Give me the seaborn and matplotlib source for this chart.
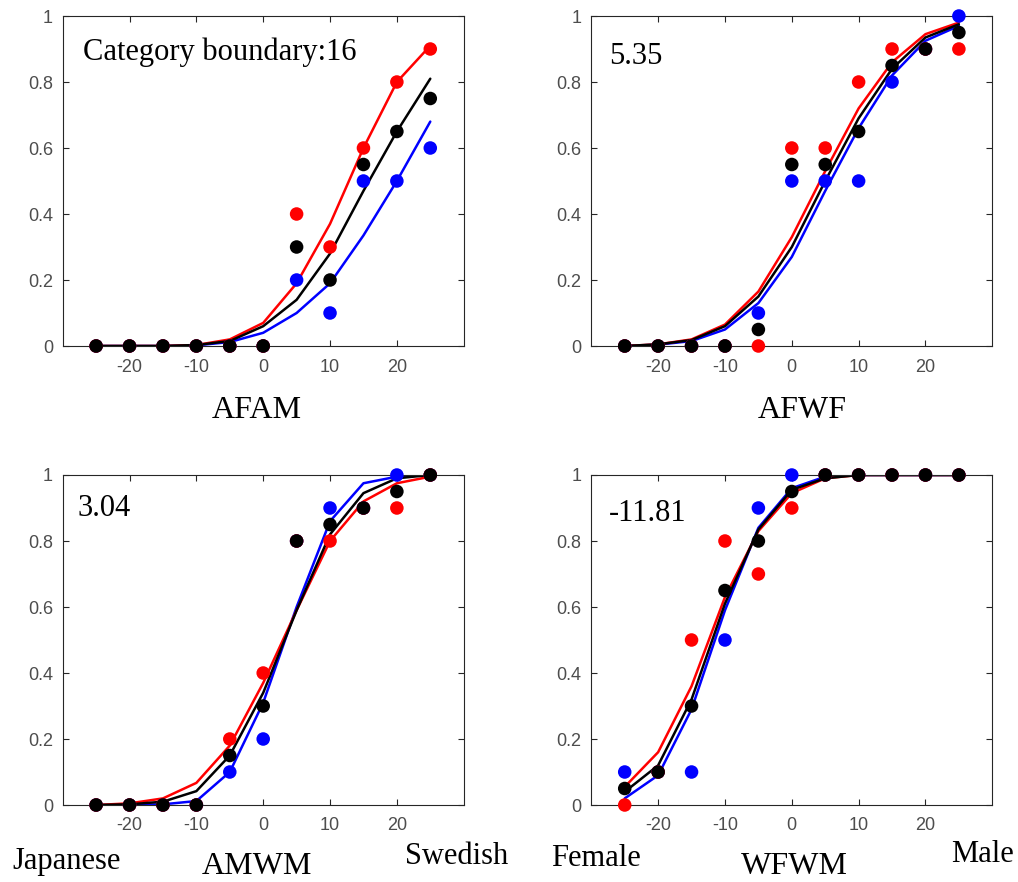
import numpy as np
import pandas as pd
import matplotlib
matplotlib.use("Agg")
import matplotlib.pyplot as plt
import seaborn as sns

# stimulus levels (morph steps)
levels = [-25, -20, -15, -10, -5, 0, 5, 10, 15, 20, 25]
groups = ["blue", "red", "black"]
panel_names = ["AFAM", "AFWF", "AMWM", "WFWM"]
boundaries = ["Category boundary:16", "5.35", "3.04", "-11.81"]

# observed proportions
afam_pts = {
    "blue":  [0, 0, 0, 0, 0, 0, 0.2, 0.1, 0.5, 0.5, 0.6],
    "red":   [0, 0, 0, 0, 0, 0, 0.4, 0.3, 0.6, 0.8, 0.9],
    "black": [0, 0, 0, 0, 0, 0, 0.3, 0.2, 0.55, 0.65, 0.75],
}
afwf_pts = {
    "blue":  [0, 0, 0, 0, 0.1, 0.5, 0.5, 0.5, 0.8, 0.9, 1.0],
    "red":   [0, 0, 0, 0, 0, 0.6, 0.6, 0.8, 0.9, 0.9, 0.9],
    "black": [0, 0, 0, 0, 0.05, 0.55, 0.55, 0.65, 0.85, 0.9, 0.95],
}
amwm_pts = {
    "blue":  [0, 0, 0, 0, 0.1, 0.2, 0.8, 0.9, 0.9, 1.0, 1.0],
    "red":   [0, 0, 0, 0, 0.2, 0.4, 0.8, 0.8, 0.9, 0.9, 1.0],
    "black": [0, 0, 0, 0, 0.15, 0.3, 0.8, 0.85, 0.9, 0.95, 1.0],
}
wfwm_pts = {
    "blue":  [0.1, 0.1, 0.1, 0.5, 0.9, 1.0, 1, 1, 1, 1, 1],
    "red":   [0, 0.1, 0.5, 0.8, 0.7, 0.9, 1, 1, 1, 1, 1],
    "black": [0.05, 0.1, 0.3, 0.65, 0.8, 0.95, 1, 1, 1, 1, 1],
}

# fitted psychometric curves
afam_fit = {
    "blue":  [0, 0, 0, 0.002, 0.012, 0.04, 0.10, 0.19, 0.335, 0.50, 0.68],
    "red":   [0, 0, 0, 0.003, 0.02, 0.07, 0.19, 0.37, 0.60, 0.80, 0.91],
    "black": [0, 0, 0, 0.003, 0.015, 0.06, 0.14, 0.28, 0.47, 0.65, 0.81],
}
afwf_fit = {
    "blue":  [0, 0.004, 0.015, 0.05, 0.13, 0.27, 0.47, 0.66, 0.82, 0.925, 0.97],
    "red":   [0, 0.005, 0.02, 0.065, 0.165, 0.33, 0.53, 0.72, 0.86, 0.945, 0.98],
    "black": [0, 0.005, 0.018, 0.06, 0.15, 0.30, 0.50, 0.69, 0.84, 0.935, 0.975],
}
amwm_fit = {
    "blue":  [0, 0, 0.002, 0.012, 0.10, 0.31, 0.60, 0.86, 0.975, 0.995, 1.0],
    "red":   [0, 0.005, 0.02, 0.067, 0.18, 0.37, 0.59, 0.80, 0.92, 0.975, 0.995],
    "black": [0, 0.002, 0.01, 0.042, 0.15, 0.34, 0.59, 0.82, 0.945, 0.99, 1.0],
}
wfwm_fit = {
    "blue":  [0.02, 0.09, 0.29, 0.59, 0.84, 0.96, 0.995, 1, 1, 1, 1],
    "red":   [0.055, 0.16, 0.36, 0.63, 0.83, 0.945, 0.99, 1, 1, 1, 1],
    "black": [0.04, 0.12, 0.32, 0.61, 0.835, 0.955, 0.99, 1, 1, 1, 1],
}

all_pts = [afam_pts, afwf_pts, amwm_pts, wfwm_pts]
all_fit = [afam_fit, afwf_fit, amwm_fit, wfwm_fit]
palette = {"blue": "#0000ff", "red": "#ff0000", "black": "#000000"}


def to_long(d):
    rows = []
    for g in groups:
        for x, y in zip(levels, d[g]):
            rows.append({"level": x, "p": y, "group": g})
    return pd.DataFrame(rows)


sns.set_style("ticks", {"xtick.direction": "in", "ytick.direction": "in"})
plt.rcParams["font.family"] = ["Liberation Sans", "DejaVu Sans"]
plt.rcParams["axes.unicode_minus"] = False

fig = plt.figure(figsize=(10.18, 8.82), dpi=100)
W, H = 1018, 882
boxes = [(62.7, 346), (591.3, 346), (62.7, 805), (591.3, 805)]
aw, ah = 401, 330

serif = ["Liberation Serif", "DejaVu Serif"]
ann_pos = [(0.05, 0.89), (0.044, 0.876), (0.038, 0.897), (0.044, 0.882)]

for i in range(4):
    left, bottom = boxes[i]
    ax = fig.add_axes([left / W, 1 - bottom / H, aw / W, ah / H])
    fit_df = to_long(all_fit[i])
    pts_df = to_long(all_pts[i])
    sns.lineplot(data=fit_df, x="level", y="p", hue="group", palette=palette,
                 hue_order=groups, linewidth=1.8, legend=False, ax=ax,
                 estimator=None, sort=True)
    sns.scatterplot(data=pts_df, x="level", y="p", hue="group", palette=palette,
                    hue_order=groups, s=95, linewidth=0, legend=False, ax=ax,
                    zorder=3, clip_on=False)
    ax.set_xlim(-30, 30)
    ax.set_ylim(0, 1)
    ax.set_xticks([-20, -10, 0, 10, 20])
    ax.set_yticks([0, 0.2, 0.4, 0.6, 0.8, 1.0])
    ax.set_yticklabels(["0", "0.2", "0.4", "0.6", "0.8", "1"])
    ax.tick_params(axis="both", which="both", top=True, right=True,
                   length=4, width=0.8, color="#262626",
                   labelsize=13, labelcolor="#4d4d4d")
    ax.tick_params(axis="x", pad=9)
    ax.tick_params(axis="y", pad=7)
    for sp in ax.spines.values():
        sp.set_visible(True)
        sp.set_color("#262626")
        sp.set_linewidth(0.8)
    ax.set_xlabel("")
    ax.set_ylabel("")
    ax.text(ann_pos[i][0], ann_pos[i][1], boundaries[i], transform=ax.transAxes,
            ha="left", va="center", fontsize=22, family=serif, color="black")

# panel names and continuum ends
title_pos = [(257, 410), (802, 410), (257, 866), (794, 866)]
for name, (x, y) in zip(panel_names, title_pos):
    fig.text(x / W, 1 - y / H, name, ha="center", va="center",
             fontsize=23, family=serif, color="black")

ends = [("Japanese", 67, 861), ("Swedish", 457, 857),
        ("Female", 596, 858), ("Male", 982, 855)]
for label, x, y in ends:
    fig.text(x / W, 1 - y / H, label, ha="center", va="center",
             fontsize=22, family=serif, color="black")

fig.savefig("out.png", dpi=100)
plt.close(fig)
